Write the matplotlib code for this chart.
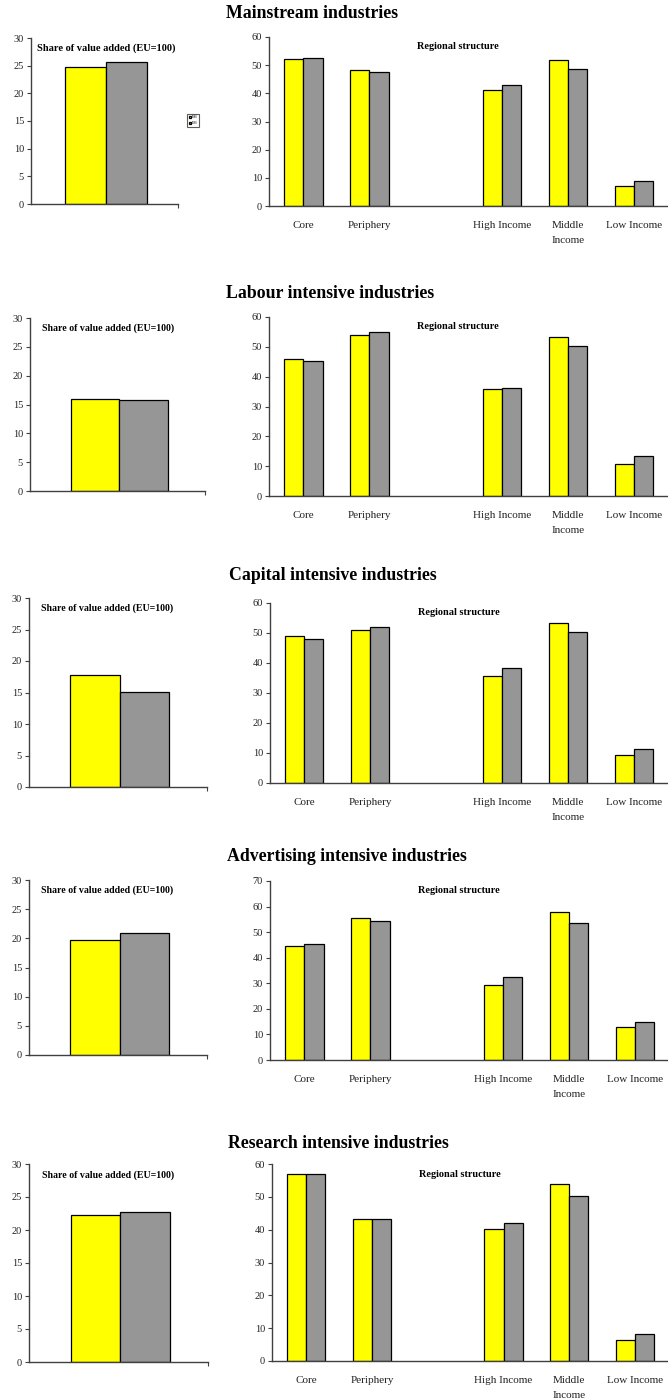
import matplotlib
matplotlib.use("Agg")
import matplotlib.pyplot as plt
import numpy as np

plt.rcParams['font.family'] = ['Liberation Serif', 'DejaVu Serif']

# industry groups, top to bottom
titles = ["Mainstream industries", "Labour intensive industries", "Capital intensive industries",
          "Advertising intensive industries", "Research intensive industries"]
regions = ["Core", "Periphery", "High Income", "Middle\nIncome", "Low Income"]
series_names = ["1988", "1998"]

# share of value added (EU=100): first / second period
share_first = [24.7, 16.0, 17.7, 19.7, 22.3]
share_second = [25.7, 15.7, 15.1, 21.0, 22.8]

# regional structure, first period (yellow)
mainstream_first = [52.1, 48.4, 41.3, 51.8, 7.0]
labour_first = [45.9, 54.0, 35.8, 53.2, 10.8]
capital_first = [49.0, 51.1, 35.6, 53.3, 9.2]
advertising_first = [44.4, 55.7, 29.5, 57.8, 13.1]
research_first = [57.1, 43.1, 40.1, 53.8, 6.3]

# regional structure, second period (grey)
mainstream_second = [52.5, 47.6, 42.8, 48.8, 8.7]
labour_second = [45.1, 54.9, 36.1, 50.4, 13.3]
capital_second = [48.1, 51.9, 38.3, 50.3, 11.2]
advertising_second = [45.4, 54.5, 32.3, 53.6, 14.7]
research_second = [57.0, 43.2, 41.9, 50.4, 8.1]

regional_first = [mainstream_first, labour_first, capital_first, advertising_first, research_first]
regional_second = [mainstream_second, labour_second, capital_second, advertising_second, research_second]
regional_ymax = [60, 60, 60, 70, 60]

YELLOW = "#FFFF00"
GREY = "#969696"
SPINE = "#404040"

W, H = 668, 1400
fig = plt.figure(figsize=(W / 100, H / 100), dpi=100)


def box(x0, x1, ytop, ybot):
    return [x0 / W, 1 - ybot / H, (x1 - x0) / W, (ybot - ytop) / H]


# pixel boxes of the axes: (left panel, right panel)
left_boxes = [(31, 178, 38, 204), (30, 205, 318, 491), (29, 207, 598, 787),
              (29, 207, 880, 1055), (29, 208, 1164, 1362)]
right_boxes = [(269, 667, 37, 206), (269, 667, 317, 496), (270, 667, 603, 783),
               (270, 668, 881, 1060), (272, 668, 1164, 1361)]
title_pos = [(226, 13), (226, 294), (229, 575), (227, 857), (228, 1143)]

# gap between the core/periphery pair and the income groups
xpos = np.array([0, 1, 3, 4, 5])
bw = 0.29


def style(ax):
    for s in ["top", "right"]:
        ax.spines[s].set_visible(False)
    for s in ["left", "bottom"]:
        ax.spines[s].set_color(SPINE)
        ax.spines[s].set_linewidth(1.0)
    ax.tick_params(axis="y", direction="out", length=3, width=0.8, color=SPINE,
                   labelsize=7.5, pad=2, labelcolor="#222222")


for i in range(5):
    # share of value added
    ax = fig.add_axes(box(*left_boxes[i]))
    style(ax)
    lw = 0.283
    ax.bar(0.5 - lw / 2, share_first[i], lw, color=YELLOW, edgecolor="black", linewidth=0.9,
           label=series_names[0])
    ax.bar(0.5 + lw / 2, share_second[i], lw, color=GREY, edgecolor="black", linewidth=0.9,
           label=series_names[1])
    ax.set_xlim(-0.02, 1)
    ax.set_ylim(0, 30)
    ax.set_yticks(range(0, 31, 5))
    ax.set_xticks([1])
    ax.set_xticklabels([])
    ax.tick_params(axis="x", direction="out", length=3, width=0.8, color=SPINE)
    ax.text(0.04 if i == 0 else 0.07, 0.97, "Share of value added (EU=100)", transform=ax.transAxes,
            fontsize=7.5 if i == 0 else 7.1, fontweight="bold", va="top", ha="left")
    if i == 0:
        leg = fig.legend(loc="center", bbox_to_anchor=(193 / W, 1 - 120 / H), fontsize=2,
                         frameon=True, fancybox=False, edgecolor="#333333", handlelength=0.8,
                         handleheight=0.8, borderpad=0.6, labelspacing=0.6, handletextpad=0.4)
        leg.get_frame().set_linewidth(0.8)

    # regional structure
    ax = fig.add_axes(box(*right_boxes[i]))
    style(ax)
    ax.bar(xpos - bw / 2, regional_first[i], bw, color=YELLOW, edgecolor="black", linewidth=0.9)
    ax.bar(xpos + bw / 2, regional_second[i], bw, color=GREY, edgecolor="black", linewidth=0.9)
    ax.set_xlim(-0.52, 5.5)
    ax.set_ylim(0, regional_ymax[i])
    ax.set_yticks(range(0, regional_ymax[i] + 1, 10))
    ax.set_xticks(xpos)
    ax.set_xticklabels(regions, fontsize=8, va="top", linespacing=1.75)
    ax.tick_params(axis="x", length=0, pad=11, labelcolor="#222222")
    ax.text(0.475, 0.97, "Regional structure", transform=ax.transAxes, fontsize=7.4,
            fontweight="bold", ha="center", va="top")

    tx, ty = title_pos[i]
    fig.text(tx / W, 1 - ty / H, titles[i], fontsize=12.8, fontweight="bold",
             ha="left", va="center")

fig.savefig("out.png", dpi=100)
